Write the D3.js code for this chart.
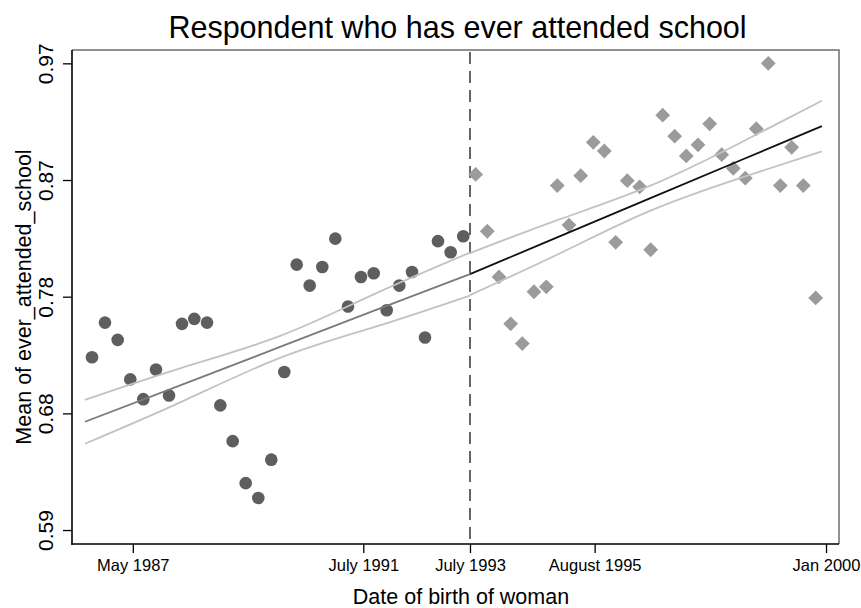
<!DOCTYPE html>
<html>
<head>
<meta charset="utf-8">
<script src="https://cdn.jsdelivr.net/npm/d3@7"></script>
<style>
  body { margin: 0; background: #fff; }
  svg { display: block; }
  text { font-family: "Liberation Sans", Arial, Helvetica, sans-serif; fill: #000; }
</style>
</head>
<body>
<svg id="chart" width="861" height="608"></svg>
<script>
// Birth-cohort bins, x in months relative to the July 1993 cutoff
const preMonths = [-82.17, -79.35, -76.59, -73.85, -71.02, -68.26, -65.43, -62.61, -59.93, -57.17,
                   -54.28, -51.59, -48.76, -46.02, -43.20, -40.37, -37.67, -34.85, -32.11, -29.28,
                   -26.52, -23.70, -20.93, -18.11, -15.37, -12.61, -9.78, -6.96, -4.20, -1.46];
const preMeans = [0.730, 0.758, 0.744, 0.712, 0.696, 0.720, 0.699, 0.757, 0.761, 0.758,
                  0.691, 0.662, 0.628, 0.616, 0.647, 0.718, 0.805, 0.788, 0.803, 0.826,
                  0.771, 0.795, 0.798, 0.768, 0.788, 0.799, 0.746, 0.824, 0.815, 0.828];

const postMonths = [1.24, 3.76, 6.30, 8.85, 11.37, 13.91, 16.59, 18.98, 21.52, 24.07,
                    26.80, 29.20, 31.67, 34.20, 36.89, 39.28, 41.89, 44.50, 47.02, 49.57,
                    52.11, 54.72, 57.24, 59.85, 62.24, 64.85, 67.46, 69.93, 72.46, 75.15];
const postMeans = [0.878, 0.832, 0.795, 0.757, 0.741, 0.783, 0.787, 0.869, 0.837, 0.877,
                   0.904, 0.897, 0.823, 0.873, 0.868, 0.817, 0.926, 0.909, 0.893, 0.902,
                   0.919, 0.894, 0.883, 0.875, 0.915, 0.968, 0.869, 0.900, 0.869, 0.778];

// Linear fit and 95% confidence band on each side of the cutoff
const fitPreMonths = [-83.7, -63.0, -41.3, -20.7, 0];
const fitPreMean   = [0.6777, 0.7072, 0.7383, 0.7679, 0.7973];
const fitPreLow    = [0.6599, 0.6934, 0.7294, 0.7545, 0.7799];
const fitPreHigh   = [0.6955, 0.7210, 0.7472, 0.7813, 0.8147];

const fitPostMonths = [0, 19.6, 39.1, 58.7, 76.5];
const fitPostMean   = [0.7973, 0.8280, 0.8586, 0.8893, 0.9172];
const fitPostLow    = [0.7803, 0.8142, 0.8485, 0.8751, 0.8967];
const fitPostHigh   = [0.8143, 0.8418, 0.8687, 0.9035, 0.9377];

const cutoffMonth = 0;

const xTickValues = [-73.3, -23.2, 0, 27.1, 77.4];
const xTickLabels = ["May 1987", "July 1991", "July 1993", "August 1995", "Jan 2000"];
const yTickValues = [0.59, 0.6845, 0.779, 0.8735, 0.968];
const yTickLabels = ["0.59", "0.68", "0.78", "0.87", "0.97"];

const titleText = "Respondent who has ever attended school";
const xTitle = "Date of birth of woman";
const yTitle = "Mean of ever_attended_school";

// Layout
const plot = { left: 72, right: 839, top: 50, bottom: 544 };
const svg = d3.select("#chart");

const x = d3.scaleLinear().domain([-86.52, 80.22]).range([plot.left, plot.right]);
const y = d3.scaleLinear().domain([0.5787, 0.9788]).range([plot.bottom, plot.top]);

// Plot frame: grey top/right edges
svg.append("path")
  .attr("d", `M${plot.left},${plot.top}H${plot.right}V${plot.bottom}`)
  .attr("fill", "none").attr("stroke", "#6e6e6e").attr("stroke-width", 1.5);

// Cutoff line
svg.append("line")
  .attr("x1", x(cutoffMonth)).attr("x2", x(cutoffMonth))
  .attr("y1", plot.top + 2).attr("y2", plot.bottom)
  .attr("stroke", "#666").attr("stroke-width", 2)
  .attr("stroke-dasharray", "12,7");

// Markers
const pre = preMonths.map((m, i) => [m, preMeans[i]]);
const post = postMonths.map((m, i) => [m, postMeans[i]]);

svg.append("g").selectAll("circle").data(pre).join("circle")
  .attr("cx", d => x(d[0])).attr("cy", d => y(d[1])).attr("r", 6.3)
  .attr("fill", "#5e5e5e");

const diamond = d3.symbol().type(d3.symbolDiamond2).size(140);
svg.append("g").selectAll("path").data(post).join("path")
  .attr("transform", d => `translate(${x(d[0])},${y(d[1])})`)
  .attr("d", diamond)
  .attr("fill", "#9b9b9b");

// Fit lines
const band = d3.line().x(d => x(d[0])).y(d => y(d[1])).curve(d3.curveNatural);
const straight = d3.line().x(d => x(d[0])).y(d => y(d[1]));
const zip = (xs, ys) => xs.map((v, i) => [v, ys[i]]);

function drawFit(xs, mean, low, high, meanColor) {
  [low, high].forEach(arr => {
    svg.append("path").datum(zip(xs, arr))
      .attr("d", band).attr("fill", "none")
      .attr("stroke", "#c2c2c2").attr("stroke-width", 1.8);
  });
  svg.append("path").datum(zip(xs, mean))
    .attr("d", straight).attr("fill", "none")
    .attr("stroke", meanColor).attr("stroke-width", 1.8);
}
drawFit(fitPreMonths, fitPreMean, fitPreLow, fitPreHigh, "#7a7a7a");
drawFit(fitPostMonths, fitPostMean, fitPostLow, fitPostHigh, "#111");

// Axes
const yAxis = d3.axisLeft(y).tickValues(yTickValues)
  .tickFormat((d, i) => yTickLabels[i]).tickSize(9).tickSizeOuter(0);
const gy = svg.append("g").attr("transform", `translate(${plot.left},0)`).call(yAxis);
gy.select(".domain").attr("stroke", "#000").attr("stroke-width", 1.6)
  .attr("d", `M0,${plot.top}V${plot.bottom + 0.8}`);
gy.selectAll(".tick line").attr("stroke", "#000").attr("stroke-width", 1.3);
gy.selectAll(".tick text")
  .attr("transform", "rotate(-90)")
  .attr("x", 0).attr("y", -19).attr("dy", null)
  .attr("text-anchor", "middle")
  .style("font-size", "21px")
  .style("font-family", "'Liberation Sans', Arial, sans-serif")
  .attr("fill", "#000");

const xAxis = d3.axisBottom(x).tickValues(xTickValues)
  .tickFormat((d, i) => xTickLabels[i]).tickSize(9).tickSizeOuter(0);
const gx = svg.append("g").attr("transform", `translate(0,${plot.bottom})`).call(xAxis);
gx.select(".domain").attr("stroke", "#000").attr("stroke-width", 1.6)
  .attr("d", `M${plot.left - 0.8},0H${plot.right}`);
gx.selectAll(".tick line").attr("stroke", "#000").attr("stroke-width", 1.3);
gx.selectAll(".tick text")
  .attr("y", 27).attr("dy", null)
  .style("font-size", "16.5px")
  .style("font-family", "'Liberation Sans', Arial, sans-serif")
  .attr("fill", "#000");

// Titles
svg.append("text")
  .attr("x", 457.5).attr("y", 38)
  .attr("text-anchor", "middle")
  .style("font-size", "30.5px")
  .text(titleText);

svg.append("text")
  .attr("x", 461).attr("y", 604)
  .attr("text-anchor", "middle")
  .style("font-size", "21.5px")
  .text(xTitle);

svg.append("text")
  .attr("transform", "translate(31,297) rotate(-90)")
  .attr("text-anchor", "middle")
  .style("font-size", "21.5px")
  .text(yTitle);
</script>
</body>
</html>
